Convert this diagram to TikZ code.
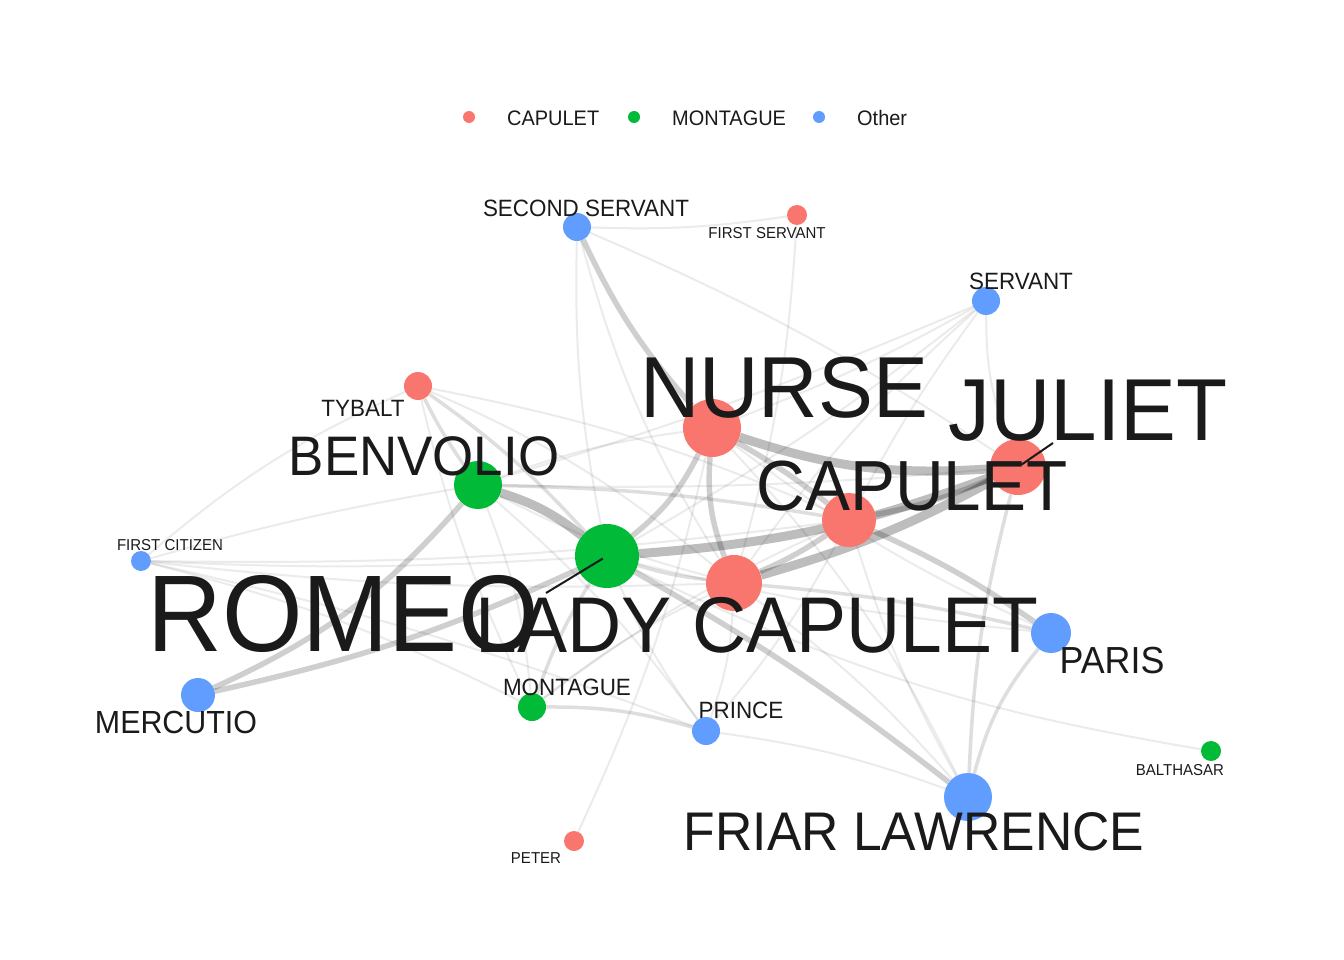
\documentclass[tikz,border=0pt]{standalone}
\usepackage{fontspec}
\setmainfont{Liberation Sans}[FakeStretch=0.95]
\usetikzlibrary{backgrounds}
\definecolor{capc}{HTML}{F8766D}
\definecolor{monc}{HTML}{00BA38}
\definecolor{othc}{HTML}{619CFF}
\definecolor{inkc}{HTML}{1A1A1A}

\begin{document}
\begin{tikzpicture}[x=1pt,y=-1pt,
  vtx/.style={circle,inner sep=0pt,minimum size=#1},
  vcap/.style={vtx=#1,fill=capc},
  vmon/.style={vtx=#1,fill=monc},
  voth/.style={vtx=#1,fill=othc},
  lbl/.style={anchor=base,inner sep=0pt,text=inkc,font=\fontsize{#1}{#1}\selectfont},
  key/.style={anchor=base west,inner sep=0pt,text=inkc,font=\fontsize{21}{21}\selectfont},
  ew1/.style={draw=black,draw opacity=.08,line width=2pt},
  ew2/.style={draw=black,draw opacity=.13,line width=3.5pt},
  ew3/.style={draw=black,draw opacity=.19,line width=5.5pt},
  ew4/.style={draw=black,draw opacity=.26,line width=9pt},
  seg/.style={draw=inkc,line width=2pt}]
\useasboundingbox (0,0) rectangle (1344,960);
% ---- legend ----
\node[vcap=12pt] (kcap) at (469,117) {};
\node[key] (kcapt) at (507,126) {CAPULET};
\node[vmon=12pt] (kmon) at (634,117) {};
\node[key] (kmont) at (672,126) {MONTAGUE};
\node[voth=12pt] (koth) at (819,117) {};
\node[key] (kotht) at (857,126) {Other};
% ---- characters ----
\node[voth=28pt] (sserv) at (577,227) {};
\node[vcap=20pt] (fserv) at (797,215) {};
\node[voth=28pt] (serv) at (986,301) {};
\node[vcap=28pt] (tyb) at (418,386) {};
\node[vmon=48pt] (benv) at (478,485) {};
\node[vcap=58pt] (nurse) at (712,428) {};
\node[vcap=56pt] (juliet) at (1018,467) {};
\node[vcap=54pt] (capu) at (849,520) {};
\node[vmon=64pt] (romeo) at (607,556) {};
\node[vcap=56pt] (ladyc) at (734,583) {};
\node[voth=20pt] (fcit) at (141,561) {};
\node[voth=34pt] (merc) at (198,695) {};
\node[vmon=28pt] (mont) at (532,707) {};
\node[voth=28pt] (prince) at (706,731) {};
\node[voth=40pt] (paris) at (1051,633) {};
\node[vmon=20pt] (bal) at (1211,751) {};
\node[voth=48pt] (friar) at (968,797) {};
\node[vcap=20pt] (peter) at (574,841) {};
% ---- interactions ----
\begin{scope}[on background layer]
\draw[ew4] (nurse) to[bend right=11] (juliet);
\draw[ew4] (romeo) to[bend right=8] (juliet);
\draw[ew4] (ladyc) to[bend right=6] (juliet);
\draw[ew4] (benv) to[bend left=10] (romeo);
\draw[ew3] (capu) to[bend left=5] (ladyc);
\draw[ew3] (nurse) to[bend left=12] (romeo);
\draw[ew3] (nurse) to[bend right=12] (ladyc);
\draw[ew3] (nurse) to[bend left=4] (capu);
\draw[ew3] (capu) to[bend right=6] (juliet);
\draw[ew3] (romeo) to[bend left=4] (friar);
\draw[ew3] (sserv) to[bend right=8] (nurse);
\draw[ew3] (merc) to[bend right=12] (benv);
\draw[ew3] (merc) to[bend right=6] (romeo);
\draw[ew3] (capu) to[bend left=5] (paris);
\draw[ew2] (romeo) to[bend right=5] (ladyc);
\draw[ew2] (ladyc) to[bend left=4] (paris);
\draw[ew2] (juliet) to[bend right=6] (friar);
\draw[ew2] (paris) to[bend right=12] (friar);
\draw[ew2] (mont) to[bend left=8] (prince);
\draw[ew2] (tyb) to[bend right=4] (benv);
\draw[ew2] (tyb) to[bend left=6] (romeo);
\draw[ew2] (benv) to[bend left=4] (capu);
\draw[ew2] (mont) to[bend left=6] (romeo);
\draw[ew1] (sserv) to[bend right=5] (fserv);
\draw[ew1] (sserv) to[bend left=5] (juliet);
\draw[ew1] (sserv) to[bend right=6] (romeo);
\draw[ew1] (sserv) to[bend right=8] (ladyc);
\draw[ew1] (fserv) to[bend left=6] (ladyc);
\draw[ew1] (serv) to[bend left=4] (nurse);
\draw[ew1] (serv) to[bend right=4] (capu);
\draw[ew1] (serv) to[bend right=10] (juliet);
\draw[ew1] (serv) to[bend left=4] (romeo);
\draw[ew1] (serv) to[bend right=6] (ladyc);
\draw[ew1] (serv) to[bend left=3] (benv);
\draw[ew1] (tyb) to[bend left=6] (capu);
\draw[ew1] (tyb) to[bend left=8] (ladyc);
\draw[ew1] (tyb) to[bend right=6] (mont);
\draw[ew1] (fcit) to[bend left=8] (tyb);
\draw[ew1] (fcit) to[bend right=3] (romeo);
\draw[ew1] (fcit) to[bend left=3] (benv);
\draw[ew1] (fcit) to[bend right=4] (capu);
\draw[ew1] (fcit) to[bend right=4] (ladyc);
\draw[ew1] (fcit) to[bend left=6] (mont);
\draw[ew1] (fcit) to[bend left=4] (prince);
\draw[ew1] (mont) to[bend right=8] (benv);
\draw[ew1] (mont) to[bend left=6] (ladyc);
\draw[ew1] (mont) to[bend left=6] (capu);
\draw[ew1] (prince) to[bend right=6] (capu);
\draw[ew1] (prince) to[bend left=6] (romeo);
\draw[ew1] (prince) to[bend right=6] (benv);
\draw[ew1] (prince) to[bend right=8] (ladyc);
\draw[ew1] (prince) to[bend left=6] (friar);
\draw[ew1] (nurse) to[bend left=8] (friar);
\draw[ew1] (capu) to[bend right=6] (friar);
\draw[ew1] (ladyc) to[bend left=6] (friar);
\draw[ew1] (nurse) to[bend right=6] (paris);
\draw[ew1] (romeo) to[bend right=4] (paris);
\draw[ew1] (peter) to[bend right=6] (nurse);
\draw[ew1] (bal) to[bend left=8] (romeo);
\draw[ew1] (benv) to[bend left=6] (nurse);
\draw[ew1] (benv) to[bend right=6] (ladyc);
\draw[ew1] (benv) to[bend right=3] (juliet);
\end{scope}
% ---- names ----
\node[lbl=109] (lromeo) at (343,651) {ROMEO};
\node[lbl=86.6] (lnurse) at (784,417) {NURSE};
\node[lbl=88] (ljuliet) at (1088,440) {JULIET};
\node[lbl=71] (lcapu) at (912,510) {CAPULET};
\node[lbl=79] (lladyc) at (757,652) {LADY CAPULET};
\node[lbl=55.7] (lbenv) at (424,475) {BENVOLIO};
\node[lbl=54.4] (lfriar) at (914,850) {FRIAR LAWRENCE};
\node[lbl=37.7] (lparis) at (1112,673) {PARIS};
\node[lbl=32] (lmerc) at (176,733) {MERCUTIO};
\node[lbl=23.6] (lsserv) at (586,217) {SECOND SERVANT};
\node[lbl=23.6] (lserv) at (1021,289) {SERVANT};
\node[lbl=23.6] (ltyb) at (363,416) {TYBALT};
\node[lbl=23.6] (lmont) at (567,695) {MONTAGUE};
\node[lbl=23.6] (lprince) at (741,718) {PRINCE};
\node[lbl=15.8] (lfserv) at (767,239) {FIRST SERVANT};
\node[lbl=15.8] (lfcit) at (170,550) {FIRST CITIZEN};
\node[lbl=15.8] (lbal) at (1180,775) {BALTHASAR};
\node[lbl=15.8] (lpeter) at (536,863) {PETER};
% ---- label leaders ----
\coordinate (romeoseg) at (546,593);
\coordinate (julietseg) at (1053,443);
\draw[seg,shorten <=5pt] (romeo.center) -- (romeoseg);
\draw[seg,shorten <=4pt] (juliet.center) -- (julietseg);
\end{tikzpicture}
\end{document}
